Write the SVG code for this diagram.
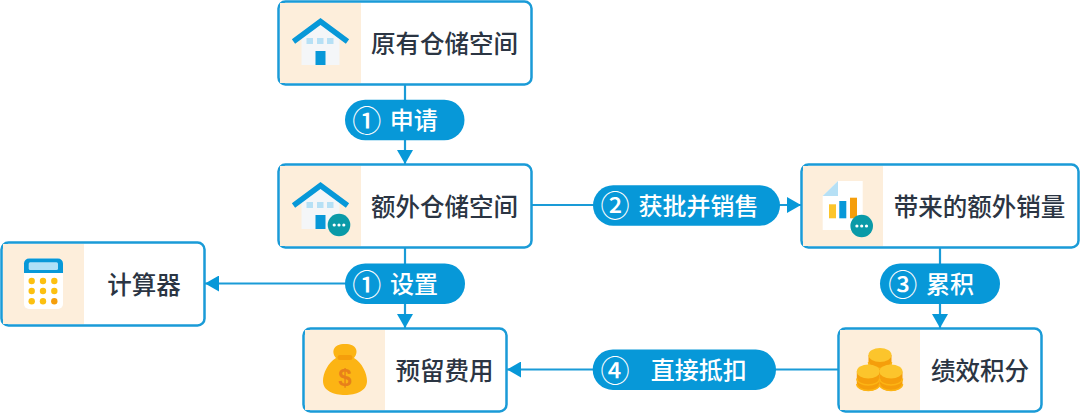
<svg xmlns="http://www.w3.org/2000/svg" width="1080" height="413" viewBox="0 0 1080 413">
<defs>
<style>
.box{fill:#fff;stroke:#1a9bd7;stroke-width:2.500}
.panel{fill:#fdeedb}
.t{font-family:"Noto Sans CJK SC","Noto Sans",sans-serif;font-size:24.500px;font-weight:500;fill:#2b3543;text-anchor:middle;dominant-baseline:central}
.pill{fill:#0798d8}
.pt{font-family:"Noto Sans CJK SC","Noto Sans",sans-serif;font-size:24px;font-weight:500;fill:#fff;text-anchor:middle;dominant-baseline:central}
.num{font-size:29px;font-weight:500}
.ln{fill:none;stroke:#1a9bd7;stroke-width:2.200}
.head{fill:#0798d8}
</style>
<marker id="arr" markerUnits="userSpaceOnUse" markerWidth="14" markerHeight="16" refX="14" refY="8" orient="auto"><path class="head" d="M0 0L14 8L0 16Z"/></marker>
<g id="house"><path fill="#f4f6f8" d="M-19 -4L0 -19L19 -4V25H-19Z"/><path fill="none" stroke="#0798d8" stroke-width="5.500" d="M-27 1.500L0 -18.500L27 1.500"/><rect x="-14" y="-2" width="6.500" height="6" fill="#b6e0f5"/><rect x="-3.500" y="-2" width="6.500" height="6" fill="#b6e0f5"/><rect x="6.500" y="-2" width="6.500" height="6" fill="#b6e0f5"/><rect x="-5" y="11" width="10" height="14" fill="#0798d8"/></g>
<g id="dots"><circle r="11.300" fill="#0a9aa8"/><circle cx="-4.800" r="1.600" fill="#fff"/><circle r="1.600" fill="#fff"/><circle cx="4.800" r="1.600" fill="#fff"/></g>
<g id="coin"><path fill="#f59e0b" d="M-11.500 0V13a11.500 6.500 0 0 0 23 0V0Z"/><path fill="none" stroke="#fcb414" stroke-width="1.500" d="M-11.500 7a11.500 6.500 0 0 0 23 0M-11.500 12.500a11.500 6.500 0 0 0 23 0"/><ellipse rx="11.500" ry="7" fill="#fcc52c"/></g>
</defs>
<g id="connectors">
<path class="ln" marker-end="url(#arr)" d="M405 84V164"/>
<path class="ln" marker-end="url(#arr)" d="M532 205H801"/>
<path class="ln" marker-end="url(#arr)" d="M940 247V328"/>
<path class="ln" marker-end="url(#arr)" d="M405 247V328"/>
<path class="ln" marker-end="url(#arr)" d="M405 283.500H205"/>
<path class="ln" marker-end="url(#arr)" d="M838 369.500H507"/>
</g>
<g id="n1"><rect class="box" x="278.500" y="1.500" width="253" height="83" rx="7"/><rect class="panel" x="280" y="3" width="81" height="80"/><use href="#house" x="320.500" y="40"/><text class="t" x="444.500" y="42.500">原有仓储空间</text></g>
<g id="n2"><rect class="box" x="278.500" y="164.500" width="253" height="83" rx="7"/><rect class="panel" x="280" y="166" width="81" height="80"/><use href="#house" x="320.500" y="204"/><use href="#dots" x="339" y="225"/><text class="t" x="444.500" y="205">额外仓储空间</text></g>
<g id="n3"><rect class="box" x="801.500" y="164.500" width="277" height="83" rx="7"/><rect class="panel" x="803" y="166" width="80" height="80"/><path fill="#fff" d="M822.700 196L838 181H862.700V230H822.700Z"/><path fill="#b6e0f5" d="M822.700 196L838 181V196Z"/><rect x="829" y="204.300" width="7" height="14" fill="#fcc52c"/><rect x="839.300" y="201" width="7" height="17.300" fill="#0798d8"/><rect x="850" y="197.700" width="7" height="20.600" fill="#f59e0b"/><use href="#dots" x="861.700" y="226"/><text class="t" x="979.500" y="205">带来的额外销量</text></g>
<g id="n4"><rect class="box" x="1.500" y="242.500" width="203" height="83" rx="7"/><rect class="panel" x="3" y="244" width="81" height="80"/><rect x="24" y="258.500" width="39" height="50.500" rx="5" fill="#fff"/><path fill="#0798d8" d="M24 273V263.500a5 5 0 0 1 5-5h29a5 5 0 0 1 5 5V273Z"/><rect x="28.700" y="262.300" width="29.300" height="7.700" rx="1.500" fill="#aee0f7"/><g fill="#fcc010"><circle cx="31.700" cy="281" r="3.200"/><circle cx="43" cy="281" r="3.200"/><circle cx="54.300" cy="281" r="3.200"/><circle cx="31.700" cy="291" r="3.200"/><circle cx="43" cy="291" r="3.200"/><circle cx="54.300" cy="291" r="3.200"/><circle cx="31.700" cy="301.300" r="3.200"/><circle cx="43" cy="301.300" r="3.200"/></g><circle cx="54.300" cy="301.300" r="3.200" fill="#f59e0b"/><text class="t" x="144" y="283.500">计算器</text></g>
<g id="n5"><rect class="box" x="303.500" y="328.500" width="203" height="83" rx="7"/><rect class="panel" x="305" y="330" width="80" height="80"/><path fill="#fcb414" d="M336 358C331 352 333 344 345 344C357 344 359 352 354 358C362 363 367 373 367 381C367 391 356 395 345 395C334 395 323 391 323 381C323 373 328 363 336 358Z"/><rect x="337.500" y="355" width="15" height="5" rx="2.500" fill="#f59e0b"/><text x="345" y="377" font-family="'Liberation Sans',sans-serif" font-size="24" font-weight="bold" fill="#e8801a" text-anchor="middle" dominant-baseline="central">$</text><text class="t" x="444.500" y="369">预留费用</text></g>
<g id="n6"><rect class="box" x="838.500" y="328.500" width="203" height="83" rx="7"/><rect class="panel" x="840" y="330" width="80" height="80"/><use href="#coin" x="880" y="355"/><use href="#coin" x="868.300" y="371.500"/><use href="#coin" x="891" y="371.500"/><text class="t" x="980" y="369">绩效积分</text></g>
<g id="p1"><rect class="pill" x="345" y="99.800" width="119.500" height="40.400" rx="20.200"/><text x="366.700" y="118.500" class="pt num">①</text><text class="pt" x="413.700" y="118.500">申请</text></g>
<g id="p2"><rect class="pill" x="593" y="185.300" width="187" height="40.400" rx="20.200"/><text x="615" y="204" class="pt num">②</text><text class="pt" x="698.500" y="204">获批并销售</text></g>
<g id="p3"><rect class="pill" x="345" y="263.500" width="120" height="40.400" rx="20.200"/><text x="366.700" y="282.500" class="pt num">①</text><text class="pt" x="414" y="282.500">设置</text></g>
<g id="p4"><rect class="pill" x="880" y="263.500" width="120" height="40.400" rx="20.200"/><text x="902.700" y="282.500" class="pt num">③</text><text class="pt" x="950" y="282.500">累积</text></g>
<g id="p5"><rect class="pill" x="592.700" y="349.500" width="183.300" height="40.400" rx="20.200"/><text x="615" y="368.500" class="pt num">④</text><text class="pt" x="698.700" y="368.500">直接抵扣</text></g>
</svg>
